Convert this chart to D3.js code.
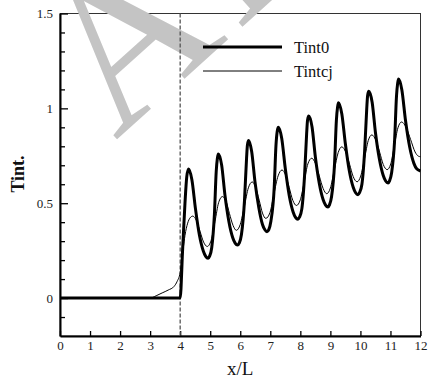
<!DOCTYPE html>
<html lang="en">
<head>
  <meta charset="UTF-8">
  <title>Tint</title>
  <style>
    body, html {
      margin: 0;
      padding: 0;
      background-color: #ffffff;
    }
    #svg {
      display: block;
    }
  </style>
</head>
<body>
  <svg id="svg" width="430" height="382"></svg>
  <script src="https://d3js.org/d3.v7.min.js"></script>
  <script>
    // values
    const xTicks = [0, 1, 2, 3, 4, 5, 6, 7, 8, 9, 10, 11, 12]
    const yTicks = [0, 0.5, 1, 1.5]
    const yMinor = [-0.1, 0.1, 0.2, 0.3, 0.4, 0.6, 0.7, 0.8, 0.9, 1.1, 1.2, 1.3, 1.4]
    const seriesNames = ['Tint0', 'Tintcj']
    const markerX = 4

    const tint0 = [
      [0, 0], [4.0, 0], [4.08, 0.25], [4.16, 0.5], [4.22, 0.64], [4.28, 0.68],
      [4.39, 0.624], [4.51, 0.47], [4.64, 0.332], [4.77, 0.248], [4.85, 0.22], [4.93, 0.21],
      [4.98, 0.221], [5.05, 0.265], [5.14, 0.441], [5.20, 0.667], [5.24, 0.738], [5.27, 0.76],
      [5.38, 0.702], [5.49, 0.544], [5.62, 0.405], [5.75, 0.318], [5.83, 0.29], [5.91, 0.28],
      [5.97, 0.291], [6.04, 0.335], [6.14, 0.511], [6.21, 0.737], [6.24, 0.808], [6.28, 0.83],
      [6.38, 0.772], [6.49, 0.614], [6.62, 0.475], [6.74, 0.388], [6.82, 0.36], [6.89, 0.35],
      [6.95, 0.361], [7.02, 0.405], [7.13, 0.581], [7.19, 0.807], [7.23, 0.878], [7.27, 0.9],
      [7.38, 0.842], [7.50, 0.682], [7.63, 0.541], [7.76, 0.454], [7.84, 0.425], [7.92, 0.415],
      [7.97, 0.426], [8.05, 0.47], [8.14, 0.644], [8.21, 0.867], [8.24, 0.938], [8.28, 0.96],
      [8.39, 0.902], [8.50, 0.744], [8.63, 0.605], [8.76, 0.518], [8.84, 0.49], [8.92, 0.48],
      [8.97, 0.491], [9.04, 0.535], [9.14, 0.711], [9.20, 0.937], [9.24, 1.008], [9.27, 1.03],
      [9.38, 0.972], [9.50, 0.812], [9.63, 0.671], [9.76, 0.584], [9.84, 0.555], [9.92, 0.545],
      [9.97, 0.556], [10.05, 0.6], [10.14, 0.774], [10.21, 0.997], [10.24, 1.068], [10.28, 1.09],
      [10.39, 1.032], [10.50, 0.873], [10.63, 0.734], [10.76, 0.646], [10.84, 0.617], [10.92, 0.607],
      [10.97, 0.618], [11.04, 0.662], [11.14, 0.837], [11.20, 1.062], [11.24, 1.133], [11.27, 1.155],
      [11.38, 1.097], [11.50, 0.937], [11.64, 0.796], [11.78, 0.71], [11.88, 0.68], [12.0, 0.67]
    ]

    const tintcj = [
      [0, 0], [3.0, 0], [3.2, 0.012], [3.4, 0.027], [3.6, 0.042], [3.8, 0.062], [3.9, 0.088],
      [4.0, 0.135], [4.05, 0.2], [4.1, 0.26], [4.16, 0.33], [4.25, 0.395], [4.33, 0.423], [4.42, 0.432],
      [4.54, 0.409], [4.66, 0.352], [4.78, 0.295], [4.90, 0.272],
      [5.03, 0.304], [5.16, 0.404], [5.28, 0.503], [5.41, 0.535],
      [5.53, 0.509], [5.64, 0.446], [5.76, 0.383], [5.87, 0.357],
      [6.00, 0.388], [6.14, 0.485], [6.27, 0.581], [6.40, 0.612],
      [6.51, 0.584], [6.63, 0.516], [6.74, 0.448], [6.85, 0.42],
      [6.99, 0.451], [7.12, 0.548], [7.26, 0.644], [7.39, 0.675],
      [7.51, 0.648], [7.63, 0.582], [7.75, 0.515], [7.87, 0.488],
      [8.00, 0.518], [8.13, 0.613], [8.25, 0.707], [8.38, 0.737],
      [8.50, 0.71], [8.63, 0.644], [8.76, 0.577], [8.88, 0.55],
      [9.00, 0.58], [9.13, 0.674], [9.26, 0.767], [9.38, 0.797],
      [9.51, 0.77], [9.64, 0.705], [9.76, 0.64], [9.89, 0.613],
      [10.01, 0.643], [10.14, 0.737], [10.26, 0.83], [10.38, 0.86],
      [10.51, 0.833], [10.64, 0.769], [10.76, 0.704], [10.89, 0.677],
      [11.01, 0.707], [11.13, 0.803], [11.25, 0.898], [11.37, 0.928],
      [11.52, 0.9], [11.67, 0.836], [11.82, 0.77], [11.93, 0.748], [12.0, 0.745]
    ]

    const serif = '"Liberation Serif", "Times New Roman", "DejaVu Serif", serif'
    const plotLeft = 60
    const plotRight = 420.5
    const plotTop = 13.5
    const plotBottom = 336

    const svg = d3.select('#svg')

    const xScale = d3.scaleLinear()
      .domain([0, 12])
      .range([plotLeft, plotRight])
    const yScale = d3.scaleLinear()
      .domain([-0.2, 1.5])
      .range([plotBottom, plotTop])

    // frame
    svg.append('rect')
      .attr('x', plotLeft)
      .attr('y', plotTop)
      .attr('width', plotRight - plotLeft)
      .attr('height', plotBottom - plotTop)
      .attr('fill', 'none')
      .attr('stroke', '#333')
      .attr('stroke-width', 1)

    // axes
    const bottomAxis = d3.axisBottom(xScale)
      .tickValues(xTicks)
      .tickFormat(d3.format('d'))
      .tickSizeInner(-5)
      .tickSizeOuter(0)
      .tickPadding(5)
    svg.append('g')
      .attr('transform', `translate(0, ${plotBottom})`)
      .call(bottomAxis)
      .attr('font-family', serif)
      .attr('font-size', 13)

    const leftAxis = d3.axisLeft(yScale)
      .tickValues(yTicks)
      .tickFormat(d => String(d))
      .tickSizeInner(-8)
      .tickSizeOuter(0)
      .tickPadding(7)
    svg.append('g')
      .attr('transform', `translate(${plotLeft}, 0)`)
      .call(leftAxis)
      .attr('font-family', serif)
      .attr('font-size', 13)

    const minorAxis = d3.axisLeft(yScale)
      .tickValues(yMinor)
      .tickFormat('')
      .tickSizeInner(-5)
      .tickSizeOuter(0)
    const gm = svg.append('g')
      .attr('transform', `translate(${plotLeft}, 0)`)
      .call(minorAxis)
    gm.select('.domain').remove()

    svg.selectAll('.domain')
      .attr('stroke', '#000')
      .attr('stroke-width', 2)
    svg.selectAll('.tick line')
      .attr('stroke', '#000')
      .attr('stroke-width', 1.3)
    svg.selectAll('.tick text')
      .attr('fill', '#222')

    // watermark
    svg.append('text')
      .text('AI')
      .attr('transform', 'translate(172, 90) rotate(-42)')
      .attr('x', -76)
      .attr('fill', '#c4c4c4')
      .attr('font-family', serif)
      .attr('font-size', 212)
      .attr('letter-spacing', 10)

    // dashed marker
    svg.append('line')
      .attr('x1', xScale(markerX))
      .attr('x2', xScale(markerX))
      .attr('y1', plotTop)
      .attr('y2', plotBottom)
      .attr('stroke', '#555')
      .attr('stroke-width', 1.3)
      .attr('stroke-dasharray', '4,2')

    const line = d3.line()
      .x(d => xScale(d[0]))
      .y(d => yScale(d[1]))
      .curve(d3.curveMonotoneX)

    svg.append('path')
      .datum(tintcj)
      .attr('d', line)
      .attr('fill', 'none')
      .attr('stroke', '#000')
      .attr('stroke-width', 1)

    svg.append('path')
      .datum(tint0)
      .attr('d', line)
      .attr('fill', 'none')
      .attr('stroke', '#000')
      .attr('stroke-width', 3)

    // legend
    const legend = svg.append('g')
    seriesNames.forEach((name, i) => {
      const ly = 47 + i * 24
      legend.append('line')
        .attr('x1', 203)
        .attr('x2', 282)
        .attr('y1', ly)
        .attr('y2', ly)
        .attr('stroke', '#000')
        .attr('stroke-width', i === 0 ? 3 : 1)
      legend.append('text')
        .text(name)
        .attr('x', 294)
        .attr('y', ly + 6)
        .attr('fill', '#111')
        .attr('font-family', serif)
        .attr('font-size', 16.5)
    })

    // axis titles
    svg.append('text')
      .text('x/L')
      .attr('x', (plotLeft + plotRight) / 2)
      .attr('y', 375)
      .attr('text-anchor', 'middle')
      .attr('fill', '#111')
      .attr('font-family', serif)
      .attr('font-size', 19)

    svg.append('text')
      .text('Tint.')
      .attr('transform', 'translate(24, 174) rotate(-90)')
      .attr('text-anchor', 'middle')
      .attr('fill', '#111')
      .attr('font-family', serif)
      .attr('font-size', 18)
      .attr('font-weight', 'bold')
  </script>
</body>
</html>
